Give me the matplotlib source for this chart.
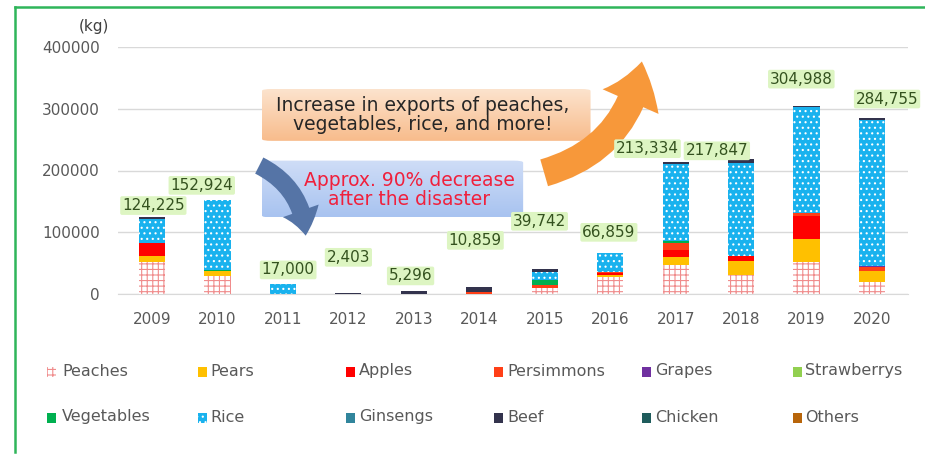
import numpy as np
import matplotlib
matplotlib.use('Agg')
import matplotlib.pyplot as plt
from matplotlib.patches import Rectangle, FancyBboxPatch, FancyArrowPatch
from matplotlib.lines import Line2D

# Years and series (kg), stacked bottom to top
years = ['2009', '2010', '2011', '2012', '2013', '2014',
         '2015', '2016', '2017', '2018', '2019', '2020']
peaches = [52000, 29000, 0, 0, 0, 0, 10000, 28000, 47000, 31000, 52000, 19000]
pears = [9000, 8000, 0, 0, 0, 0, 0, 2000, 13000, 23000, 37000, 19000]
apples = [21000, 0, 0, 0, 0, 0, 0, 4000, 12000, 8000, 38000, 0]
persimmons = [1000, 0, 0, 0, 0, 3000, 5000, 2000, 11000, 0, 4000, 5000]
grapes = [0, 0, 0, 0, 0, 0, 0, 0, 0, 0, 0, 3000]
strawberrys = [0, 0, 0, 0, 0, 0, 0, 0, 0, 0, 0, 0]
vegetables = [0, 1500, 0, 0, 0, 0, 7500, 0, 3000, 0, 0, 0]
rice = [39000, 113000, 17000, 0, 0, 0, 12500, 30000, 124334, 150847, 171988, 235755]
ginsengs = [0, 0, 0, 0, 0, 0, 0, 0, 0, 0, 0, 0]
beef = [2225, 1424, 0, 2403, 4500, 7859, 4742, 0, 3000, 5000, 2000, 3000]
chicken = [0, 0, 0, 0, 796, 0, 0, 0, 0, 0, 0, 0]
others = [0, 0, 0, 0, 0, 0, 0, 859, 0, 0, 0, 0]

names = ['Peaches', 'Pears', 'Apples', 'Persimmons', 'Grapes', 'Strawberrys',
         'Vegetables', 'Rice', 'Ginsengs', 'Beef', 'Chicken', 'Others']
series = [peaches, pears, apples, persimmons, grapes, strawberrys,
          vegetables, rice, ginsengs, beef, chicken, others]

# styling per series: (facecolor, hatch, hatch colour)
styles = {
    'Peaches': ('white', '+++', '#F08C8C'),
    'Pears': ('#FFC000', None, None),
    'Apples': ('#FF0000', None, None),
    'Persimmons': ('#FF3F17', None, None),
    'Grapes': ('#7030A0', None, None),
    'Strawberrys': ('#92D050', None, None),
    'Vegetables': ('#00B050', None, None),
    'Rice': ('#19B2EE', '...', 'white'),
    'Ginsengs': ('#31859C', None, None),
    'Beef': ('#33334D', None, None),
    'Chicken': ('#1F5C5C', None, None),
    'Others': ('#B8650A', None, None),
}

# label nudges (category units / kg) so labels sit where they do in the original
label_dx = [0.02, -0.24, 0.08, 0, -0.05, -0.06, -0.08, -0.02, -0.43, -0.37, -0.08, 0.23]
label_dy = [19000, 23000, 22000, 57000, 24000, 76000, 78000, 33000, 22000, 14000, 43000, 31000]

plt.rcParams['hatch.linewidth'] = 0.8
plt.rcParams['font.family'] = ['DejaVu Sans']

fig = plt.figure(figsize=(9.25, 4.54), dpi=100)
ax = fig.add_axes([118 / 925, 1 - 294 / 454, (908 - 118) / 925, (294 - 47) / 454])

x = np.arange(len(years))
bottom = np.zeros(len(years))
for name, vals in zip(names, series):
    fc, hatch, hc = styles[name]
    vals = np.array(vals, dtype=float)
    ax.bar(x, vals, 0.4, bottom=bottom, color=fc, hatch=hatch,
           edgecolor=hc if hc else fc, linewidth=0, zorder=3)
    bottom += vals

totals = bottom
for i, t in enumerate(totals):
    ax.text(x[i] + label_dx[i], t + label_dy[i], f'{int(t):,}', ha='center', va='center',
            fontsize=11, color='#34521F', zorder=6,
            bbox=dict(boxstyle='round,pad=0.12', fc='#DDF5C2', ec='none'))

ax.set_ylim(0, 400000)
ax.set_xlim(-0.52, 11.55)
ax.set_yticks([0, 100000, 200000, 300000, 400000])
ax.set_yticklabels(['0', '100000', '200000', '300000', '400000'])
ax.set_xticks(x)
ax.set_xticklabels(years)
ax.tick_params(axis='y', length=0, pad=13, labelsize=11, labelcolor='#595959')
ax.tick_params(axis='x', length=0, pad=13, labelsize=11, labelcolor='#595959')
ax.grid(axis='y', color='#D9D9D9', linewidth=1, zorder=0)
for s in ['top', 'right', 'left']:
    ax.spines[s].set_visible(False)
ax.spines['bottom'].set_color('#D9D9D9')

fig.text(94 / 925, 1 - 26 / 454, '(kg)', ha='center', va='center', fontsize=11, color='#404040')


def gradient_box(x0, x1, y0, y1, c_top, c_bot):
    box = FancyBboxPatch((x0, y0), x1 - x0, y1 - y0,
                         boxstyle='round,pad=0,rounding_size=0.15',
                         mutation_aspect=20000, fc='none', ec='none', zorder=4)
    ax.add_patch(box)
    grad = np.linspace(0, 1, 64)[:, None]
    c1 = np.array(matplotlib.colors.to_rgb(c_top))
    c2 = np.array(matplotlib.colors.to_rgb(c_bot))
    img = c1[None, None, :] * (1 - grad[..., None]) + c2[None, None, :] * grad[..., None]
    im = ax.imshow(img, extent=[x0, x1, y0, y1], origin='upper', aspect='auto', zorder=4)
    im.set_clip_path(box)


# orange note box + arrow
gradient_box(1.68, 6.7, 248000, 332000, '#FCE3CD', '#F8BC8C')
ax.text(4.14, 290000, 'Increase in exports of peaches,\nvegetables, rice, and more!',
        ha='center', va='center', fontsize=13.5, color='#262626', zorder=6, linespacing=1.05)
ax.add_patch(FancyArrowPatch((5.95, 195000), (7.49, 381000),
                             connectionstyle='arc3,rad=0.33',
                             arrowstyle='simple,head_width=2.2,head_length=1.5,tail_width=1.0',
                             mutation_scale=20, color='#F7983A', lw=0, zorder=5, clip_on=False))

# blue note box + arrow
gradient_box(1.68, 5.67, 124000, 216000, '#CFDDF7', '#A8C3F0')
ax.text(3.93, 168000, 'Approx. 90% decrease\nafter the disaster',
        ha='center', va='center', fontsize=13.5, color='#F0203C', zorder=6, linespacing=1.0)
ax.add_patch(FancyArrowPatch((1.6, 210000), (2.35, 90000),
                             connectionstyle='arc3,rad=-0.3',
                             arrowstyle='simple,head_width=2.1,head_length=1.4,tail_width=1.0',
                             mutation_scale=13, color='#5574A6', lw=0, zorder=5))

# manual legend, two rows of six
mark_x = [47, 198, 346, 494, 642, 793]
text_x = [62, 210, 359, 507, 655, 805]
leg_y = [371, 417]
for k, name in enumerate(names):
    fc, hatch, hc = styles[name]
    ly = 1 - leg_y[k // 6] / 454
    fig.add_artist(Rectangle((mark_x[k % 6] / 925, ly - 6 / 454), 9 / 925, 10 / 454,
                             transform=fig.transFigure, facecolor=fc, hatch=hatch,
                             edgecolor=hc if hc else fc, linewidth=0))
    fig.text(text_x[k % 6] / 925, ly, name, ha='left', va='center', fontsize=11.5, color='#595959')

# green frame
fig.add_artist(Line2D([15 / 925, 15 / 925], [1 - 452 / 454, 1 - 7 / 454],
                      transform=fig.transFigure, color='#2FB55A', lw=1.8))
fig.add_artist(Line2D([15 / 925, 1], [1 - 7 / 454, 1 - 7 / 454],
                      transform=fig.transFigure, color='#2FB55A', lw=1.8))

fig.savefig('out.png', dpi=100)
